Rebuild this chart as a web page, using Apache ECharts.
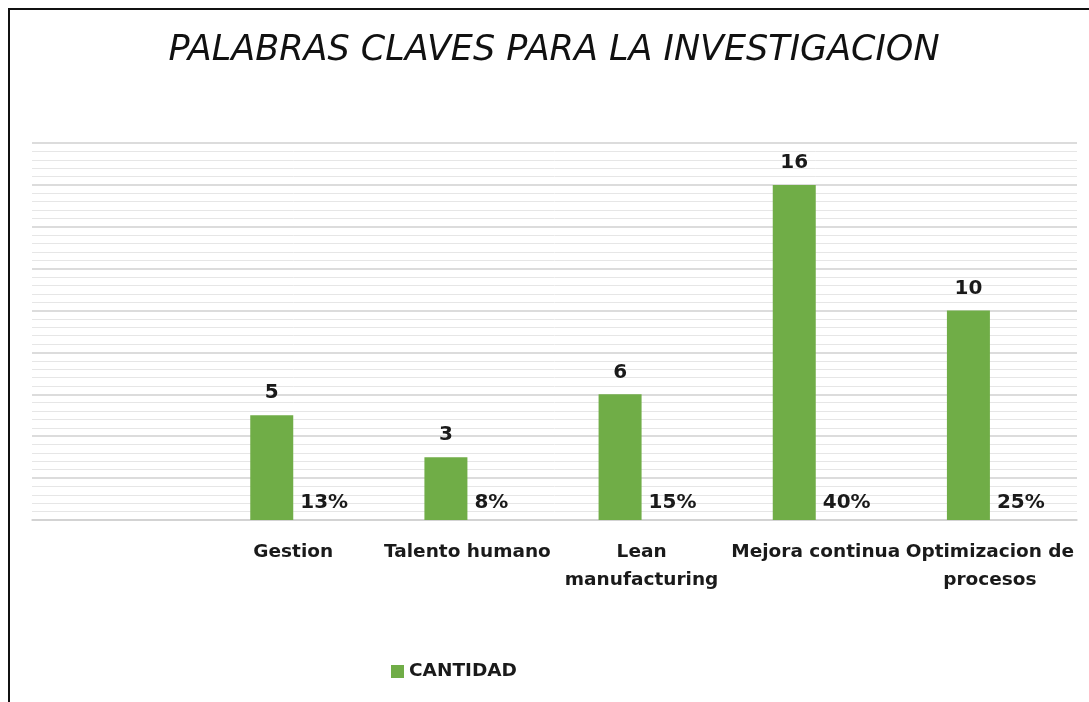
<!DOCTYPE html>
<html>
<head>
<meta charset="utf-8">
<script src="https://cdn.jsdelivr.net/npm/echarts@6/dist/echarts.min.js"></script>
<style>
html,body{margin:0;padding:0;background:#fff;}
#chart{width:1089px;height:702px;}
</style>
</head>
<body>
<div id="chart"></div>
<script>
// Data
const categories = ["", "Gestion", "Talento humano", "Lean manufacturing", "Mejora continua", "Optimizacion de procesos"];
const categoryLabels = ["", "Gestion", "Talento humano", "Lean\nmanufacturing", "Mejora continua", "Optimizacion de\nprocesos"];
const cantidad = [null, 5, 3, 6, 16, 10];
const porcentaje = [null, 0.13, 0.08, 0.15, 0.40, 0.25];
const titleText = "PALABRAS CLAVES PARA LA INVESTIGACION";

const chart = echarts.init(document.getElementById('chart'));
const FONT = "'DejaVu Sans', sans-serif";
chart.setOption({
  animation: false,
  backgroundColor: '#fff',
  title: {
    text: titleText,
    left: 549, top: 46, textAlign: 'center', textVerticalAlign: 'middle',
    textStyle: { fontFamily: FONT, fontStyle: 'italic', fontWeight: 'normal', fontSize: 35, color: '#111' }
  },
  legend: {
    data: ['CANTIDAD'],
    left: 386, top: 657,
    itemWidth: 13, itemHeight: 13, icon: 'rect', itemGap: 6,
    textStyle: { fontFamily: FONT, fontWeight: 'bold', fontSize: 18.5, color: '#1a1a1a' }
  },
  grid: { left: 32, right: 12, top: 143, bottom: 182 },
  xAxis: {
    type: 'category',
    data: categories,
    axisTick: { show: false },
    axisLine: { show: true, lineStyle: { color: '#d0d0d0', width: 1.5 } },
    axisLabel: {
      interval: 0, margin: 18,
      fontFamily: FONT, fontWeight: 'bold', fontSize: 18.5, lineHeight: 28, color: '#1a1a1a',
      formatter: function (v, i) { return categoryLabels[i]; }
    }
  },
  yAxis: {
    type: 'value', min: 0, max: 18, interval: 2,
    axisLabel: { show: false },
    axisLine: { show: false },
    axisTick: { show: false },
    splitLine: { show: true, lineStyle: { color: '#d0d0d0', width: 1.5 } },
    minorTick: { show: false, splitNumber: 5 },
    minorSplitLine: { show: true, lineStyle: { color: '#e6e6e6', width: 1 } }
  },
  series: [
    {
      name: 'CANTIDAD', type: 'bar', data: cantidad,
      barWidth: 43, barGap: '0%',
      itemStyle: { color: '#70AD47' },
      label: {
        show: true, position: 'top', distance: 12,
        fontFamily: FONT, fontWeight: 'bold', fontSize: 20, color: '#1a1a1a'
      }
    },
    {
      name: 'PORCENTAJE', type: 'bar', data: porcentaje,
      barWidth: 43, barGap: '0%',
      itemStyle: { color: 'rgba(0,0,0,0)' },
      label: {
        show: true, position: 'insideBottomLeft', distance: 7,
        fontFamily: FONT, fontWeight: 'bold', fontSize: 20, color: '#1a1a1a',
        formatter: function (p) { return Math.round(p.value * 100) + '%'; }
      }
    }
  ],
  graphic: [{
    type: 'polyline', silent: true,
    shape: { points: [[9, 710], [9, 9], [1095, 9]] },
    style: { stroke: '#111', lineWidth: 2, fill: null }
  }]
});
</script>
</body>
</html>
